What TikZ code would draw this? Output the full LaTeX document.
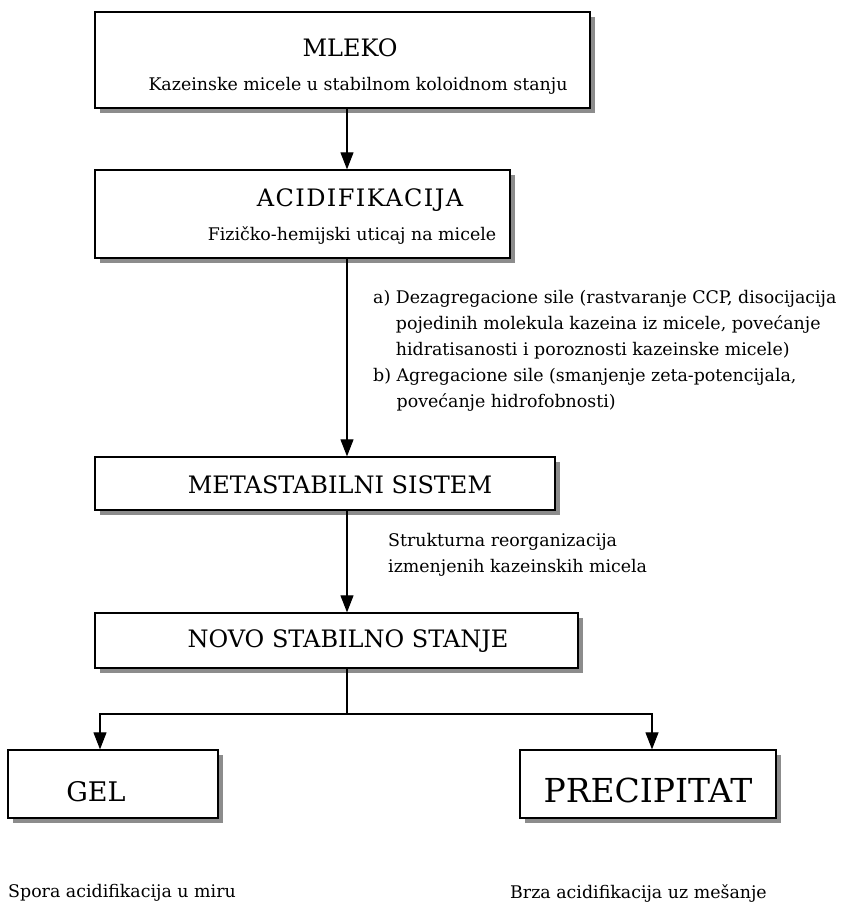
\documentclass[tikz,border=0pt]{standalone}
\usepackage{fontspec}
\setmainfont{DejaVu Serif}
\usetikzlibrary{arrows.meta,shadows}
\begin{document}
\begin{tikzpicture}[x=1pt,y=1pt,
  box/.style={draw, line width=1.3pt, fill=white, rectangle, inner sep=0pt,
    drop shadow={shadow xshift=5pt, shadow yshift=-5pt, fill=black!45, opacity=1}},
  title/.style={font=\fontsize{24}{28}\selectfont, inner sep=0pt},
  big/.style={font=\fontsize{33}{38}\selectfont, inner sep=0pt},
  small/.style={font=\fontsize{17.4}{26}\selectfont, inner sep=0pt},
  arr/.style={line width=1.1pt, -{Triangle[width=13pt,length=17pt]}},
  conn/.style={line width=1.1pt}
]
\useasboundingbox (0,0) rectangle (850,-908);

% boxes
\node[box, minimum width=495pt, minimum height=96pt] (mleko) at (342.5,-60) {};
\node[box, minimum width=415pt, minimum height=88pt] (acid) at (302.5,-214) {};
\node[box, minimum width=460pt, minimum height=53pt] (meta) at (325,-483.5) {};
\node[box, minimum width=483pt, minimum height=55pt] (novo) at (336.5,-640.5) {};
\node[box, minimum width=210pt, minimum height=68pt] (gel) at (113,-784) {};
\node[box, minimum width=256pt, minimum height=68pt] (prec) at (648,-784) {};

% box texts
\node[title] (tmleko) at (350,-48) {MLEKO};
\node[small] (smleko) at (358,-86) {Kazeinske micele u stabilnom koloidnom stanju};
\node[title, font=\fontsize{24}{28}\selectfont\addfontfeature{LetterSpace=6}] (tacid) at (360,-200) {ACIDIFIKACIJA};
\node[small] (sacid) at (352,-235) {Fizičko-hemijski uticaj na micele};
\node[title] (tmeta) at (340,-485) {METASTABILNI SISTEM};
\node[title] (tnovo) at (348,-641) {NOVO STABILNO STANJE};
\node[title, font=\fontsize{27}{30}\selectfont] (tgel) at (96,-792) {GEL};
\node[big] (tprec) at (648,-790) {PRECIPITAT};

% side notes
\node[small, anchor=north west, align=left] (forces) at (373,-290)
  {a) Dezagregacione sile (rastvaranje CCP, disocijacija\\
  \hphantom{a) }pojedinih molekula kazeina iz micele, povećanje\\
  \hphantom{a) }hidratisanosti i poroznosti kazeinske micele)\\
  b) Agregacione sile (smanjenje zeta-potencijala,\\
  \hphantom{b) }povećanje hidrofobnosti)};
\node[small, anchor=north west, align=left] (reorg) at (388,-533)
  {Strukturna reorganizacija\\izmenjenih kazeinskih micela};
\node[small, anchor=west] (cgel) at (8,-893) {Spora acidifikacija u miru};
\node[small, anchor=west] (cprec) at (510,-893) {Brza acidifikacija uz mešanje};

% connectors
\coordinate (ax) at (347,0);
\coordinate (gx) at (100,0);
\coordinate (px) at (652,0);
\coordinate (split) at (347,-714);
\draw[arr] (mleko.south -| ax) -- (acid.north -| ax);
\draw[arr] (acid.south -| ax) -- (meta.north -| ax);
\draw[arr] (meta.south -| ax) -- (novo.north -| ax);
\draw[conn] (novo.south -| ax) -- (split);
\draw[arr] (split) -| (gel.north -| gx);
\draw[arr] (split) -| (prec.north -| px);
\end{tikzpicture}
\end{document}
